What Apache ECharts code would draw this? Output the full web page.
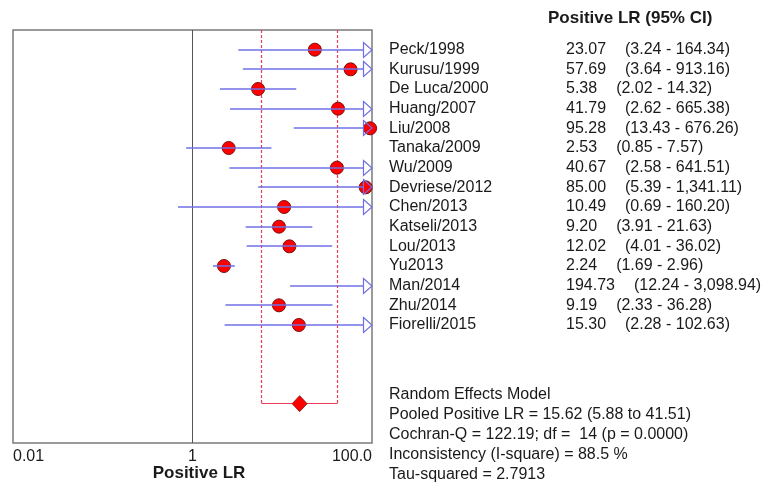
<!DOCTYPE html>
<html>
<head>
<meta charset="utf-8">
<script src="https://cdn.jsdelivr.net/npm/echarts@6/dist/echarts.min.js"></script>
<style>html,body{margin:0;padding:0;background:#fff;}#c{width:766px;height:483px;}</style>
</head>
<body>
<div id="c"></div>
<script>
const studies = ["Peck/1998","Kurusu/1999","De Luca/2000","Huang/2007","Liu/2008","Tanaka/2009","Wu/2009","Devriese/2012","Chen/2013","Katseli/2013","Lou/2013","Yu2013","Man/2014","Zhu/2014","Fiorelli/2015"];
const lr = [23.07,57.69,5.38,41.79,95.28,2.53,40.67,85.00,10.49,9.20,12.02,2.24,194.73,9.19,15.30];
const ciLow = [3.24,3.64,2.02,2.62,13.43,0.85,2.58,5.39,0.69,3.91,4.01,1.69,12.24,2.33,2.28];
const ciHigh = [164.34,913.16,14.32,665.38,676.26,7.57,641.51,1341.11,160.20,21.63,36.02,2.96,3098.94,36.28,102.63];
const pooled = 15.62, pooledLow = 5.88, pooledHigh = 41.51;
const pooledRow = 18;
const xTicks = {"-2":"0.01","0":"1","2":"100.0"};
const headerText = "Positive LR (95% CI)";
const axisTitle = "Positive LR";
const footer = ["Random Effects Model","Pooled Positive LR = 15.62 (5.88 to 41.51)","Cochran-Q = 122.19; df =  14 (p = 0.0000)","Inconsistency (I-square) = 88.5 %","Tau-squared = 2.7913"];

const XMIN = 0.01, XMAX = 100;
function fmt(v){
  const s = v.toFixed(2);
  const parts = s.split('.');
  parts[0] = parts[0].replace(/\B(?=(\d{3})+(?!\d))/g, ',');
  return parts.join('.');
}
function crisp(x){ return Math.round(x - 0.5) + 0.5; }
const rows = studies.map((s,i)=>[i, lr[i], ciLow[i], ciHigh[i]]);
const TXT = '#1a1a1a';
const RED_LINE = '#ec3c5a';
const FONT = 'Arial, "Liberation Sans", sans-serif';
const chart = echarts.init(document.getElementById('c'), null, {renderer:'canvas'});
chart.setOption({
  animation:false,
  backgroundColor:'#fff',
  grid:{left:13, right:394, top:30, bottom:40, show:true, borderColor:'#7a7a7a', borderWidth:1.5, backgroundColor:'transparent'},
  xAxis:{type:'log', logBase:10, min:XMIN, max:XMAX,
    axisLine:{show:false}, axisTick:{show:false}, splitLine:{show:false},
    axisLabel:{show:true, margin:6, color:TXT, fontSize:16, fontFamily:FONT,
      alignMinLabel:'left', alignMaxLabel:'right',
      formatter:function(v){const k=String(Math.round(Math.log10(v)));return xTicks[k]!==undefined?xTicks[k]:'';}}},
  yAxis:{type:'value', min:-1, max:20, inverse:true, show:false},
  graphic:[
    {type:'text', left:548, top:10, style:{text:headerText, font:'bold 17px '+FONT, fill:TXT}},
    {type:'text', x:199, y:473, style:{text:axisTitle, font:'bold 17px '+FONT, fill:TXT, align:'center', verticalAlign:'middle'}}
  ].concat(footer.map((t,i)=>({type:'text', x:389, y:395+i*20, style:{text:t, font:'16px '+FONT, fill:TXT, verticalAlign:'middle'}}))),
  series:[
    {type:'custom', coordinateSystem:'cartesian2d', silent:true, z:1,
      data:[[1,-1]],
      renderItem:function(params, api){
        const top = api.coord([1,-1]);
        const bot = api.coord([1,20]);
        const ox = crisp(top[0]);
        return {type:'line', shape:{x1:ox,y1:top[1],x2:ox,y2:bot[1]}, style:{stroke:'#555', lineWidth:1}};
      }},
    {type:'custom', coordinateSystem:'cartesian2d', silent:true, z:2,
      data:[[pooled, pooledRow, pooledLow, pooledHigh]],
      renderItem:function(params, api){
        const row = api.value(1);
        const top = api.coord([1,-1]);
        const l = api.coord([api.value(2),row]);
        const h = api.coord([api.value(3),row]);
        const lx = crisp(l[0]), hx = crisp(h[0]), py = crisp(l[1]);
        return {type:'group', children:[
          {type:'polyline', shape:{points:[[lx,top[1]],[lx,py]]}, style:{stroke:RED_LINE, lineWidth:1.2, lineDash:[3,2], fill:null}},
          {type:'polyline', shape:{points:[[hx,top[1]],[hx,py]]}, style:{stroke:RED_LINE, lineWidth:1.2, lineDash:[3,2], fill:null}},
          {type:'polyline', shape:{points:[[lx,py],[hx,py]]}, style:{stroke:RED_LINE, lineWidth:1.2, fill:null}}
        ]};
      }},
    {type:'scatter', z:3, symbol:'circle', symbolSize:13,
      itemStyle:{color:'#ff0000', borderColor:'#7a1010', borderWidth:1, opacity:1},
      data:lr.map((v,i)=>[v,i]).filter(d=>d[0]<=XMAX)},
    {type:'custom', z:4, silent:true,
      data:rows,
      renderItem:function(params, api){
        const i = api.value(0);
        const lo = api.value(2), hi = api.value(3);
        const a = api.coord([Math.max(lo,XMIN), i]);
        const b = api.coord([Math.min(hi,XMAX), i]);
        const y = Math.round(a[1]);
        const ch = [];
        const col = '#7070e6';
        if (hi > XMAX) {
          const tipX = b[0], baseX = b[0]-8.5;
          ch.push({type:'line', shape:{x1:a[0],y1:y,x2:baseX,y2:y}, style:{stroke:col, lineWidth:1.5}});
          ch.push({type:'polygon', shape:{points:[[baseX,y-7.5],[tipX,y],[baseX,y+7.5]]}, style:{stroke:col, fill:null, lineWidth:1.2}});
        } else {
          ch.push({type:'line', shape:{x1:a[0],y1:y,x2:b[0],y2:y}, style:{stroke:col, lineWidth:1.5}});
        }
        return {type:'group', children:ch};
      }},
    {type:'scatter', z:5, symbol:'diamond', symbolSize:[15,16],
      itemStyle:{color:'#ff0000', borderColor:'#8a1010', borderWidth:0.8, opacity:1},
      data:[[pooled, pooledRow]]},
    {type:'custom', z:6, silent:true, clip:false,
      data:rows,
      renderItem:function(params, api){
        const i = api.value(0);
        const y = api.coord([1,i])[1];
        const idx = params.dataIndex;
        return {type:'group', children:[
          {type:'text', x:389, y:y, style:{text:studies[idx], font:'16px '+FONT, fill:TXT, verticalAlign:'middle'}},
          {type:'text', x:566, y:y, style:{
            text:'{v|'+fmt(lr[idx])+'}{c|('+fmt(ciLow[idx])+' - '+fmt(ciHigh[idx])+')}',
            verticalAlign:'middle',
            rich:{v:{font:'16px '+FONT, fill:TXT, color:TXT}, c:{font:'16px '+FONT, fill:TXT, color:TXT, padding:[0,0,0,19]}}}}
        ]};
      }}
  ]
});
</script>
</body>
</html>
